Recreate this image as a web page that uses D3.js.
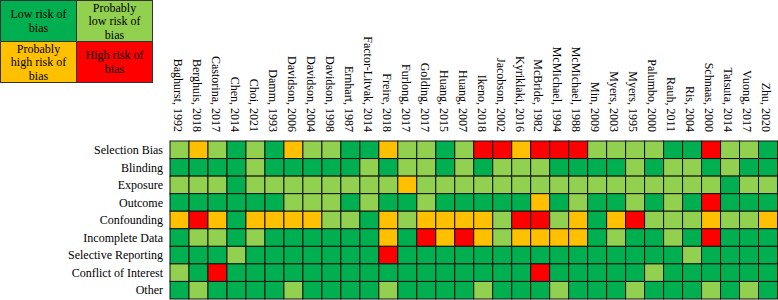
<!DOCTYPE html>
<html>
<head>
<meta charset="utf-8">
<script src="https://cdn.jsdelivr.net/npm/d3@7"></script>
<style>
	html, body { margin: 0; padding: 0; background: #fff; }
	svg { display: block; font-family: 'Liberation Serif', 'Times New Roman', serif; }
</style>
</head>
<body>
<div id="chart"></div>
<script>
/* global d3 */

// Studies (columns)
const studies = [
	'Baghurst, 1992', 'Berghuis, 2018', 'Castorina, 2017', 'Chen, 2014', 'Choi, 2021',
	'Damm, 1993', 'Davidson, 2006', 'Davidson, 2004', 'Davidson, 1998', 'Ernhart, 1987',
	'Factor-Litvak, 2014', 'Freire, 2018', 'Furlong, 2017', 'Golding, 2017', 'Huang, 2015',
	'Huang, 2007', 'Ikeno, 2018', 'Jacobson, 2002', 'Kyriklaki, 2016', 'McBride, 1982',
	'McMichael, 1994', 'McMichael, 1988', 'Min, 2009', 'Myers, 2003', 'Myers, 1995',
	'Palumbo, 2000', 'Rauh, 2011', 'Ris, 2004', 'Schnaas, 2000', 'Tatsuta, 2014',
	'Vuong, 2017', 'Zhu, 2020',
];

// Bias domains (rows)
const domains = [
	'Selection Bias', 'Blinding', 'Exposure', 'Outcome', 'Confounding',
	'Incomplete Data', 'Selective Reporting', 'Conflict of Interest', 'Other',
];

// Ratings: L = low, PL = probably low, PH = probably high, H = high
const selectionBias = [ 'PL', 'PH', 'PL', 'L', 'PL', 'L', 'PH', 'PL', 'PL', 'L', 'L', 'PH', 'PL', 'PL', 'L', 'PL', 'H', 'H', 'PH', 'H', 'H', 'H', 'PL', 'PL', 'PL', 'PL', 'L', 'L', 'H', 'PL', 'PL', 'L' ];
const blinding = [ 'L', 'L', 'L', 'L', 'PL', 'L', 'L', 'L', 'L', 'L', 'PL', 'L', 'PL', 'PL', 'L', 'PL', 'L', 'PL', 'PL', 'PL', 'L', 'L', 'L', 'L', 'PL', 'L', 'PL', 'PL', 'L', 'PL', 'L', 'L' ];
const exposure = [ 'PL', 'PL', 'PL', 'L', 'PL', 'PL', 'PL', 'PL', 'PL', 'PL', 'PL', 'PL', 'PH', 'PL', 'PL', 'PL', 'PL', 'PL', 'PL', 'PL', 'PL', 'PL', 'PL', 'PL', 'PL', 'PL', 'PL', 'PL', 'PL', 'L', 'PL', 'PL' ];
const outcome = [ 'L', 'L', 'L', 'L', 'L', 'L', 'PL', 'PL', 'PL', 'L', 'PL', 'L', 'L', 'PL', 'L', 'L', 'L', 'L', 'L', 'PH', 'L', 'PL', 'L', 'L', 'PL', 'L', 'PL', 'L', 'H', 'L', 'L', 'L' ];
const confounding = [ 'PH', 'H', 'PH', 'L', 'PH', 'PH', 'PH', 'PH', 'PL', 'PL', 'L', 'PH', 'PL', 'PH', 'PH', 'PH', 'PH', 'PL', 'H', 'H', 'PL', 'PH', 'L', 'PH', 'H', 'PL', 'PL', 'PL', 'PH', 'PL', 'PL', 'PH' ];
const incompleteData = [ 'L', 'PL', 'PL', 'L', 'PL', 'L', 'L', 'L', 'L', 'L', 'L', 'PH', 'L', 'H', 'PH', 'H', 'PH', 'PL', 'PH', 'PH', 'PH', 'PH', 'L', 'PL', 'L', 'L', 'PL', 'L', 'H', 'L', 'L', 'L' ];
const selectiveReporting = [ 'L', 'L', 'L', 'PL', 'L', 'L', 'L', 'L', 'L', 'L', 'L', 'H', 'L', 'L', 'L', 'L', 'L', 'L', 'L', 'L', 'L', 'L', 'L', 'L', 'L', 'L', 'L', 'PL', 'L', 'L', 'L', 'L' ];
const conflictOfInterest = [ 'PL', 'L', 'H', 'L', 'L', 'L', 'L', 'L', 'L', 'L', 'L', 'L', 'L', 'L', 'L', 'L', 'L', 'L', 'L', 'H', 'L', 'L', 'L', 'L', 'L', 'PL', 'L', 'L', 'L', 'L', 'L', 'L' ];
const other = [ 'L', 'PL', 'L', 'L', 'L', 'L', 'PL', 'L', 'L', 'L', 'L', 'PL', 'L', 'L', 'L', 'L', 'PL', 'L', 'L', 'L', 'PL', 'L', 'L', 'L', 'PL', 'L', 'L', 'L', 'PL', 'L', 'PL', 'L' ];

const ratings = [
	selectionBias, blinding, exposure, outcome, confounding,
	incompleteData, selectiveReporting, conflictOfInterest, other,
];

// Legend (2 x 2 box, read row by row)
const legendCodes = [ 'L', 'PL', 'PH', 'H' ];
const legendLabels = [
	[ 'Low risk of', 'bias' ],
	[ 'Probably', 'low risk of', 'bias' ],
	[ 'Probably', 'high risk of', 'bias' ],
	[ 'High risk of', 'bias' ],
];

/**
 * Risk of bias grid
 */
class RiskOfBiasChart {
	/**
	 * @param {string} selector - Container selector
	 */
	constructor( selector ) {
		this.selector = selector;
		this.config = {
			width: 778,
			height: 300,
			gridLeft: 170,
			gridRight: 778,
			gridTop: 141,
			gridBottom: 299,
			labelBottom: 132,
			rowLabelRight: 163,
			legendCellW: 76,
			legendCellH: 41,
			fontSize: 12,
		};

		this.colorScale = d3.scaleOrdinal()
			.domain( [ 'L', 'PL', 'PH', 'H' ] )
			.range( [ '#00B050', '#92D050', '#FFC000', '#FF0000' ] );

		this.createSVG();
		this.setupScales();
		this.renderCells();
		this.addColumnLabels();
		this.addRowLabels();
		this.createLegend();
	}

	createSVG() {
		const { width, height } = this.config;
		this.svg = d3.select( this.selector )
			.append( 'svg' )
			.attr( 'width', width )
			.attr( 'height', height );
	}

	setupScales() {
		const { gridLeft, gridRight, gridTop, gridBottom } = this.config;
		this.x = d3.scaleBand().domain( studies ).range( [ gridLeft, gridRight - 0.5 ] );
		this.y = d3.scaleBand().domain( domains ).range( [ gridTop, gridBottom ] );
	}

	/**
	 * One rect per study x domain
	 */
	renderCells() {
		const cells = [];
		domains.forEach( ( domain, i ) => {
			studies.forEach( ( study, j ) => {
				cells.push( { domain, study, code: ratings[ i ][ j ] } );
			} );
		} );

		this.svg.append( 'g' )
			.selectAll( 'rect' )
			.data( cells )
			.enter()
			.append( 'rect' )
			.attr( 'x', ( d ) => this.x( d.study ) )
			.attr( 'y', ( d ) => this.y( d.domain ) )
			.attr( 'width', this.x.bandwidth() )
			.attr( 'height', this.y.bandwidth() )
			.attr( 'fill', ( d ) => this.colorScale( d.code ) )
			.attr( 'stroke', '#111' )
			.style( 'stroke-width', '1px' );
	}

	addColumnLabels() {
		const { labelBottom, fontSize } = this.config;
		const bw = this.x.bandwidth();
		this.svg.append( 'g' )
			.selectAll( 'text' )
			.data( studies )
			.enter()
			.append( 'text' )
			.attr( 'transform', ( d ) => `translate(${ this.x( d ) + bw / 2 - 1.5 }, ${ labelBottom }) rotate(90)` )
			.attr( 'text-anchor', 'end' )
			.attr( 'dy', '0.35em' )
			.style( 'font-size', fontSize + 'px' )
			.style( 'fill', '#000' )
			.text( ( d ) => d );
	}

	addRowLabels() {
		const { rowLabelRight, fontSize } = this.config;
		const bh = this.y.bandwidth();
		this.svg.append( 'g' )
			.selectAll( 'text' )
			.data( domains )
			.enter()
			.append( 'text' )
			.attr( 'x', rowLabelRight )
			.attr( 'y', ( d ) => this.y( d ) + bh / 2 )
			.attr( 'text-anchor', 'end' )
			.attr( 'dy', '0.35em' )
			.style( 'font-size', fontSize + 'px' )
			.style( 'fill', '#000' )
			.text( ( d ) => d );
	}

	/**
	 * 2 x 2 legend box in the top left corner
	 */
	createLegend() {
		const { legendCellW, legendCellH, fontSize } = this.config;
		const lineHeight = 13.5;
		const legend = this.svg.append( 'g' ).attr( 'transform', 'translate(0.5, 0.5)' );

		const items = legend.selectAll( 'g' )
			.data( legendCodes.map( ( code, i ) => ( { code, lines: legendLabels[ i ], i } ) ) )
			.enter()
			.append( 'g' )
			.attr( 'transform', ( d ) => `translate(${ ( d.i % 2 ) * legendCellW }, ${ Math.floor( d.i / 2 ) * legendCellH })` );

		items.append( 'rect' )
			.attr( 'width', legendCellW )
			.attr( 'height', legendCellH )
			.attr( 'fill', ( d ) => this.colorScale( d.code ) )
			.attr( 'stroke', '#333' )
			.style( 'stroke-width', '1px' );

		items.each( function ( d ) {
			const top = legendCellH / 2 - ( ( d.lines.length - 1 ) * lineHeight ) / 2;
			d3.select( this ).selectAll( 'text' )
				.data( d.lines )
				.enter()
				.append( 'text' )
				.attr( 'x', legendCellW / 2 )
				.attr( 'y', ( line, k ) => top + k * lineHeight )
				.attr( 'text-anchor', 'middle' )
				.attr( 'dy', '0.35em' )
				.style( 'font-size', fontSize + 'px' )
				.style( 'fill', '#000' )
				.text( ( line ) => line );
		} );
	}
}

new RiskOfBiasChart( '#chart' );
</script>
</body>
</html>
